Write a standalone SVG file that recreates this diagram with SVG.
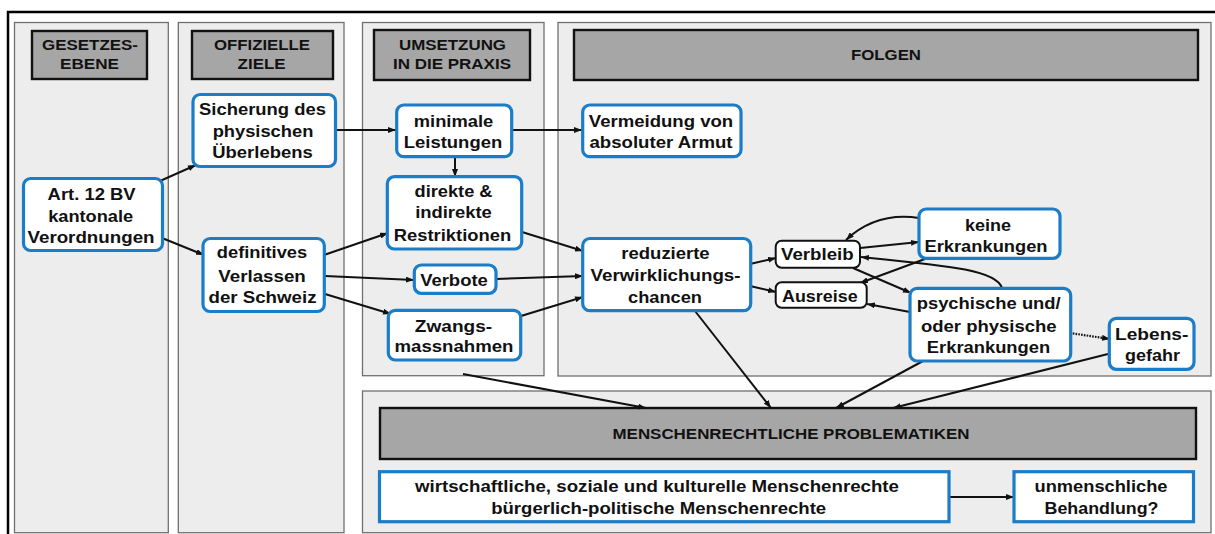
<svg xmlns="http://www.w3.org/2000/svg" width="1215" height="534" viewBox="0 0 1215 534">
<defs>
<marker id="a" viewBox="0 0 8 6" refX="8" refY="3" markerWidth="8" markerHeight="6" markerUnits="userSpaceOnUse" orient="auto">
<path d="M0,0 L8,3 L0,6 z" fill="#111"/>
</marker>
<style>
.panel{fill:#ededed;stroke:#707070;stroke-width:1.3}
.hdr{fill:#a6a6a6;stroke:#111;stroke-width:2.4}
.node{fill:#fff;stroke:#1b7dc8;stroke-width:3.2}
.bnode{fill:#fff;stroke:#111;stroke-width:2}
text{font-family:"Liberation Sans",Arial,sans-serif;font-weight:bold;fill:#111;text-anchor:middle}
.t{font-size:16.5px}
.h{font-size:14.5px}
.c{stroke:#111;stroke-width:2;fill:none;marker-end:url(#a)}
.d{stroke:#111;stroke-width:2.2;fill:none;stroke-dasharray:1.6 1.2;marker-end:url(#a)}
</style>
</defs>
<rect width="1215" height="534" fill="#fff"/>
<path d="M8,534 V12 H1215" fill="none" stroke="#000" stroke-width="2.5"/>

<g id="panels">
<rect class="panel" x="14.5" y="22.5" width="153.8" height="510.2"/>
<rect class="panel" x="178.3" y="22.5" width="165.7" height="510.2"/>
<rect class="panel" x="362.5" y="22.5" width="181.5" height="353.2"/>
<rect class="panel" x="558" y="22.5" width="653" height="353.5"/>
<rect class="panel" x="362.5" y="391" width="848.5" height="141.7"/>
</g>

<g id="hdr-gesetzesebene">
<rect class="hdr" x="32" y="31" width="115" height="48"/>
<text class="h" x="90" y="50" textLength="96" lengthAdjust="spacingAndGlyphs">GESETZES-</text>
<text class="h" x="89.5" y="69.3" textLength="59" lengthAdjust="spacingAndGlyphs">EBENE</text>
</g>
<g id="hdr-ziele">
<rect class="hdr" x="192" y="31" width="141" height="48"/>
<text class="h" x="262" y="50" textLength="96" lengthAdjust="spacingAndGlyphs">OFFIZIELLE</text>
<text class="h" x="261.6" y="69.3" textLength="48" lengthAdjust="spacingAndGlyphs">ZIELE</text>
</g>
<g id="hdr-umsetzung">
<rect class="hdr" x="374" y="30" width="156" height="50"/>
<text class="h" x="452.5" y="50" textLength="107" lengthAdjust="spacingAndGlyphs">UMSETZUNG</text>
<text class="h" x="452" y="69.3" textLength="118" lengthAdjust="spacingAndGlyphs">IN DIE PRAXIS</text>
</g>
<g id="hdr-folgen">
<rect class="hdr" x="574" y="30" width="624" height="50"/>
<text class="h" x="886" y="60" textLength="70" lengthAdjust="spacingAndGlyphs">FOLGEN</text>
</g>
<g id="hdr-menschenrechte">
<rect class="hdr" x="380" y="408" width="816" height="51"/>
<text class="h" x="791" y="439" textLength="357" lengthAdjust="spacingAndGlyphs">MENSCHENRECHTLICHE PROBLEMATIKEN</text>
</g>

<g id="connectors">
<path class="c" d="M160,181 L196,165"/>
<path class="c" d="M162,238 L204,255"/>
<path class="c" d="M336,130 L396,130"/>
<path class="c" d="M512,130 L582,130"/>
<path class="c" d="M455,157 L455,177"/>
<path class="c" d="M324,255 L388,233"/>
<path class="c" d="M325,276 L414,280"/>
<path class="c" d="M325,294 L391,314"/>
<path class="c" d="M522,232 L583,251"/>
<path class="c" d="M496,279 L583,276"/>
<path class="c" d="M521,316 L583,297"/>
<path class="c" d="M750,264 L776,258"/>
<path class="c" d="M750,286 L776,292"/>
<path class="c" d="M860,248 L919,242"/>
<path class="c" d="M919,218 C885,213 862,225 846,240"/>
<path class="c" d="M925,259 L860,283"/>
<path class="c" d="M853,268 L911,293"/>
<path class="c" d="M1002,288 C996,270 950,266 861,257"/>
<path class="c" d="M910,312 L867,304"/>
<path class="d" d="M1070,333 L1110,339"/>
<path class="c" d="M463,374 L646,408"/>
<path class="c" d="M695,311 L771,408"/>
<path class="c" d="M923,361 L836,408"/>
<path class="c" d="M1108,354 L893,408"/>
<path class="c" d="M949,497 L1014,497"/>
</g>

<g id="n-art12">
<rect class="node" x="23.5" y="178.5" width="139" height="72" rx="7"/>
<text class="t" x="91.6" y="200" textLength="88" lengthAdjust="spacingAndGlyphs">Art. 12 BV</text>
<text class="t" x="90.7" y="221.7" textLength="85" lengthAdjust="spacingAndGlyphs">kantonale</text>
<text class="t" x="91" y="242.7" textLength="127" lengthAdjust="spacingAndGlyphs">Verordnungen</text>
</g>
<g id="n-sicherung">
<rect class="node" x="193" y="94.5" width="142.5" height="72" rx="7"/>
<text class="t" x="262.5" y="115" textLength="127" lengthAdjust="spacingAndGlyphs">Sicherung des</text>
<text class="t" x="263" y="136.7" textLength="100.7" lengthAdjust="spacingAndGlyphs">physischen</text>
<text class="t" x="262.5" y="158.3" textLength="100.4" lengthAdjust="spacingAndGlyphs">Überlebens</text>
</g>
<g id="n-verlassen">
<rect class="node" x="203" y="238.5" width="121.3" height="73" rx="7"/>
<text class="t" x="262" y="258.3" textLength="90.4" lengthAdjust="spacingAndGlyphs">definitives</text>
<text class="t" x="262" y="281.7" textLength="87.5" lengthAdjust="spacingAndGlyphs">Verlassen</text>
<text class="t" x="262.5" y="302.7" textLength="108" lengthAdjust="spacingAndGlyphs">der Schweiz</text>
</g>
<g id="n-minimale">
<rect class="node" x="396.7" y="105" width="115" height="51.7" rx="7"/>
<text class="t" x="453.5" y="127.3" textLength="79.4" lengthAdjust="spacingAndGlyphs">minimale</text>
<text class="t" x="453" y="148.3" textLength="98.4" lengthAdjust="spacingAndGlyphs">Leistungen</text>
</g>
<g id="n-restriktionen">
<rect class="node" x="387.3" y="176.7" width="134.4" height="72.3" rx="7"/>
<text class="t" x="453.5" y="197.3" textLength="78" lengthAdjust="spacingAndGlyphs">direkte &amp;</text>
<text class="t" x="453.5" y="218.3" textLength="76.7" lengthAdjust="spacingAndGlyphs">indirekte</text>
<text class="t" x="452.5" y="240.7" textLength="117.4" lengthAdjust="spacingAndGlyphs">Restriktionen</text>
</g>
<g id="n-verbote">
<rect class="node" x="414.3" y="265" width="81.7" height="28.3" rx="7"/>
<text class="t" x="454" y="286" textLength="67.7" lengthAdjust="spacingAndGlyphs">Verbote</text>
</g>
<g id="n-zwangs">
<rect class="node" x="388.3" y="310.3" width="132.4" height="49.7" rx="7"/>
<text class="t" x="453.5" y="331.7" textLength="77.3" lengthAdjust="spacingAndGlyphs">Zwangs-</text>
<text class="t" x="454" y="351.7" textLength="119" lengthAdjust="spacingAndGlyphs">massnahmen</text>
</g>
<g id="n-vermeidung">
<rect class="node" x="582.7" y="105" width="158.3" height="51.7" rx="7"/>
<text class="t" x="661" y="127.3" textLength="144.4" lengthAdjust="spacingAndGlyphs">Vermeidung von</text>
<text class="t" x="661" y="148.3" textLength="143" lengthAdjust="spacingAndGlyphs">absoluter Armut</text>
</g>
<g id="n-reduzierte">
<rect class="node" x="582.7" y="238.5" width="168" height="72.2" rx="7"/>
<text class="t" x="665.5" y="259" textLength="88.3" lengthAdjust="spacingAndGlyphs">reduzierte</text>
<text class="t" x="665.5" y="281" textLength="150" lengthAdjust="spacingAndGlyphs">Verwirklichungs-</text>
<text class="t" x="665" y="302.7" textLength="74" lengthAdjust="spacingAndGlyphs">chancen</text>
</g>
<g id="n-verbleib">
<rect class="bnode" x="775.7" y="240.7" width="84.3" height="27" rx="6"/>
<text class="t" x="817.3" y="260" textLength="72.6" lengthAdjust="spacingAndGlyphs">Verbleib</text>
</g>
<g id="n-ausreise">
<rect class="bnode" x="775.7" y="282.3" width="91" height="25.4" rx="6"/>
<text class="t" x="819.8" y="302.3" textLength="75.6" lengthAdjust="spacingAndGlyphs">Ausreise</text>
</g>
<g id="n-keine">
<rect class="node" x="919" y="209" width="141" height="49.3" rx="7"/>
<text class="t" x="988" y="230.7" textLength="46" lengthAdjust="spacingAndGlyphs">keine</text>
<text class="t" x="986" y="252.3" textLength="123" lengthAdjust="spacingAndGlyphs">Erkrankungen</text>
</g>
<g id="n-psychische">
<rect class="node" x="910" y="288.3" width="160.7" height="72.7" rx="7"/>
<text class="t" x="988.7" y="309.3" textLength="144" lengthAdjust="spacingAndGlyphs">psychische und/</text>
<text class="t" x="988.8" y="331.7" textLength="135.7" lengthAdjust="spacingAndGlyphs">oder physische</text>
<text class="t" x="988.5" y="352.7" textLength="123.3" lengthAdjust="spacingAndGlyphs">Erkrankungen</text>
</g>
<g id="n-lebensgefahr">
<rect class="node" x="1109.3" y="318.3" width="84.7" height="51" rx="7"/>
<text class="t" x="1151.7" y="340" textLength="73.3" lengthAdjust="spacingAndGlyphs">Lebens-</text>
<text class="t" x="1152.5" y="361" textLength="55" lengthAdjust="spacingAndGlyphs">gefahr</text>
</g>
<g id="n-rechte">
<rect class="node" x="379.5" y="471.7" width="569.5" height="50"/>
<text class="t" x="657" y="492.3" textLength="484" lengthAdjust="spacingAndGlyphs">wirtschaftliche, soziale und kulturelle Menschenrechte</text>
<text class="t" x="658.7" y="513.5" textLength="335" lengthAdjust="spacingAndGlyphs">bürgerlich-politische Menschenrechte</text>
</g>
<g id="n-unmenschlich">
<rect class="node" x="1014" y="471.7" width="179.5" height="50"/>
<text class="t" x="1101" y="492.3" textLength="133" lengthAdjust="spacingAndGlyphs">unmenschliche</text>
<text class="t" x="1101.5" y="513.5" textLength="114" lengthAdjust="spacingAndGlyphs">Behandlung?</text>
</g>
</svg>
